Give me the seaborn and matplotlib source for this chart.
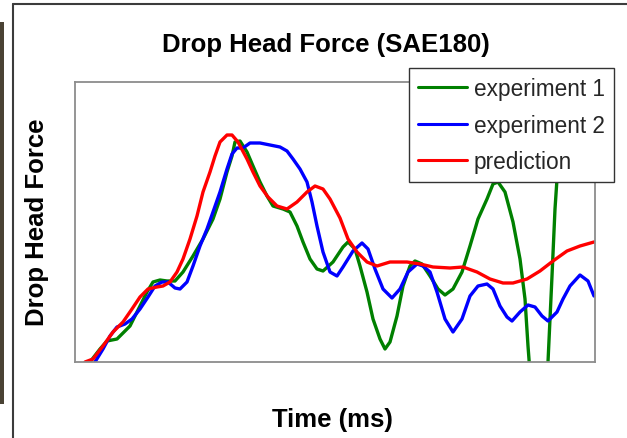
import matplotlib
matplotlib.use("Agg")
import matplotlib.pyplot as plt
from matplotlib.lines import Line2D
from matplotlib.patches import Rectangle
import seaborn as sns
import pandas as pd

# Experiment 1 (time in ms, force)
exp1_time = [1.5, 2.5, 3.2, 4.2, 5.5, 6.2, 7.2, 7.8, 8.5, 9.2, 10.0, 10.8, 11.8, 12.8,
             13.8, 14.5, 15.2, 15.7, 16.0, 16.5, 17.2, 17.8, 18.5, 19.2, 19.8, 20.8,
             21.5, 22.2, 22.8, 23.5, 24.2, 24.8, 25.8, 26.8, 27.3, 28.0, 28.5, 29.2,
             29.8, 30.5, 31.0, 31.5, 32.2, 32.8, 33.5, 34.0, 34.7, 35.5, 36.3, 37.0,
             37.8, 38.7, 39.5, 40.3, 41.2, 41.8, 42.3, 43.0, 43.8, 44.5, 45.0, 45.3,
             45.7, 46.3, 46.9, 47.3, 47.7, 48.0, 48.2, 48.5, 48.8]
exp1_force = [0.0, 1.3, 2.1, 2.3, 3.6, 5.0, 7.0, 8.0, 8.2, 8.1, 8.1, 9.0, 10.6, 12.3,
              14.3, 16.3, 19.0, 20.6, 22.0, 22.1, 21.0, 19.6, 18.0, 16.6, 15.6, 15.3,
              15.0, 13.6, 12.0, 10.3, 9.3, 9.1, 10.0, 11.5, 12.0, 11.3, 9.6, 7.0,
              4.3, 2.3, 1.3, 2.0, 4.6, 7.6, 9.6, 10.1, 9.8, 8.6, 7.3, 6.7,
              7.3, 9.0, 11.6, 14.3, 16.3, 17.8, 18.0, 17.0, 14.0, 10.3, 6.3, 1.6,
              -3.7, -5.7, -3.7, 0.0, 8.6, 15.3, 18.3, 24.3, 30.3]

# Experiment 2
exp2_time = [2.0, 2.8, 3.5, 4.2, 5.0, 5.7, 6.5, 7.3, 8.0, 8.7, 9.3, 10.0, 10.5, 11.2,
             11.8, 12.5, 13.2, 13.8, 14.5, 15.2, 15.7, 16.2, 16.8, 17.5, 18.5, 19.5,
             20.5, 21.2, 21.8, 22.5, 23.2, 23.7, 24.2, 24.8, 25.5, 26.2, 26.8, 27.8,
             28.7, 29.3, 30.0, 30.8, 31.7, 32.5, 33.3, 34.2, 34.8, 35.5, 36.2, 37.0,
             37.8, 38.7, 39.5, 40.3, 41.2, 41.8, 42.5, 43.2, 43.7, 44.5, 45.3, 46.0,
             46.7, 47.3, 48.2, 48.8, 49.5, 50.5, 51.3, 51.9]
exp2_force = [0.0, 1.3, 2.6, 3.5, 3.8, 4.3, 5.3, 6.5, 7.6, 8.0, 8.0, 7.4, 7.3, 8.0,
              9.6, 11.6, 13.3, 15.0, 17.0, 19.3, 20.8, 21.4, 21.4, 21.9, 21.9, 21.7,
              21.5, 21.1, 20.3, 19.3, 18.0, 16.0, 13.6, 11.0, 9.0, 8.6, 9.5, 11.1,
              11.9, 11.3, 9.3, 7.3, 6.4, 7.3, 9.0, 9.8, 9.6, 9.0, 7.0, 4.3,
              3.0, 4.3, 6.6, 7.6, 7.8, 7.3, 5.6, 4.5, 4.1, 5.0, 5.7, 5.5,
              4.6, 4.1, 5.0, 6.3, 7.6, 8.7, 8.1, 6.6]

# Prediction
pred_time = [1.0, 1.8, 2.8, 3.8, 4.8, 5.7, 6.5, 7.3, 8.2, 8.8, 9.5, 10.2, 10.8, 11.5,
             12.2, 12.8, 13.5, 14.0, 14.5, 15.2, 15.7, 16.3, 17.2, 17.8, 18.5, 19.3,
             20.2, 21.2, 22.2, 23.2, 24.0, 24.8, 25.5, 26.5, 27.3, 28.2, 29.2, 30.2,
             31.5, 33.2, 34.5, 35.8, 37.5, 38.8, 40.2, 41.5, 42.8, 43.8, 45.2, 46.5,
             47.8, 49.2, 50.5, 51.9]
pred_force = [0.0, 0.3, 1.6, 3.0, 4.0, 5.3, 6.5, 7.3, 7.5, 7.6, 8.0, 9.0, 10.3, 12.3,
              14.6, 17.0, 19.0, 20.6, 22.0, 22.7, 22.7, 22.0, 20.3, 19.0, 17.6, 16.5,
              15.6, 15.3, 16.0, 17.0, 17.6, 17.3, 16.3, 14.4, 12.3, 11.0, 10.0, 9.6,
              10.0, 10.0, 9.8, 9.5, 9.4, 9.5, 9.0, 8.3, 7.9, 7.9, 8.3, 9.1,
              10.1, 11.1, 11.6, 12.0]

series_names = ["experiment 1", "experiment 2", "prediction"]
series_colors = ["#008000", "#0000ff", "#ff0000"]

sns.set_theme(style="white")
plt.rcParams["font.family"] = ["Liberation Sans", "DejaVu Sans"]

W, H = 627, 439
fig = plt.figure(figsize=(W / 100, H / 100), dpi=100)
fig.patch.set_facecolor("white")

# outer frame and narrow dark strip on the left edge
fig.add_artist(Rectangle((0, 1 - 405 / H), 3.5 / W, (405 - 23) / H,
                         transform=fig.transFigure, facecolor="#4a4234",
                         edgecolor="none"))
fig.add_artist(Line2D([12.5 / W, 12.5 / W], [0, 1 - 4.5 / H],
                      transform=fig.transFigure, color="#3c3c3c", lw=1.5))
fig.add_artist(Line2D([12.5 / W, 1.0], [1 - 4.5 / H, 1 - 4.5 / H],
                      transform=fig.transFigure, color="#3c3c3c", lw=1.5))

ax = fig.add_axes([75 / W, 1 - 363 / H, 520 / W, 280 / H])
ax.set_facecolor("white")

frames = []
for name, t, f in zip(series_names,
                      [exp1_time, exp2_time, pred_time],
                      [exp1_force, exp2_force, pred_force]):
    frames.append(pd.DataFrame({"time": t, "force": f, "series": name}))
df = pd.concat(frames, ignore_index=True)

sns.lineplot(data=df, x="time", y="force", hue="series",
             palette=dict(zip(series_names, series_colors)),
             estimator=None, sort=False, lw=2.4, ax=ax, legend=False)

ax.set_xlim(0, 52)
ax.set_ylim(0, 28)
ax.set_xticks([])
ax.set_yticks([])
ax.set_xlabel("")
ax.set_ylabel("")
for s in ax.spines.values():
    s.set_color("#8c8c8c")
    s.set_linewidth(1.3)

handles = [Line2D([], [], color=c, lw=2.2) for c in series_colors]
leg = ax.legend(handles, series_names, loc="upper left",
                bbox_to_anchor=(409 / W, 1 - 69 / H),
                bbox_transform=fig.transFigure, fontsize=16.3,
                frameon=True, fancybox=False, framealpha=1.0,
                edgecolor="#333333", facecolor="white",
                handlelength=2.15, handletextpad=0.3, borderpad=0.4,
                labelspacing=0.6, borderaxespad=0)
leg.get_frame().set_linewidth(1.0)
leg.set_zorder(10)

fig.text(326 / W, 1 - 52 / H, "Drop Head Force (SAE180)", ha="center",
         va="baseline", fontsize=18.5, fontweight="bold", color="black")
fig.text(37 / W, 1 - 222 / H, "Drop Head Force", ha="center", va="center",
         rotation=90, fontsize=18.5, fontweight="bold", color="black")
fig.text(332 / W, 1 - 427 / H, "Time (ms)", ha="center", va="baseline",
         fontsize=18.5, fontweight="bold", color="black")

fig.savefig("out.png", dpi=100, facecolor="white")
